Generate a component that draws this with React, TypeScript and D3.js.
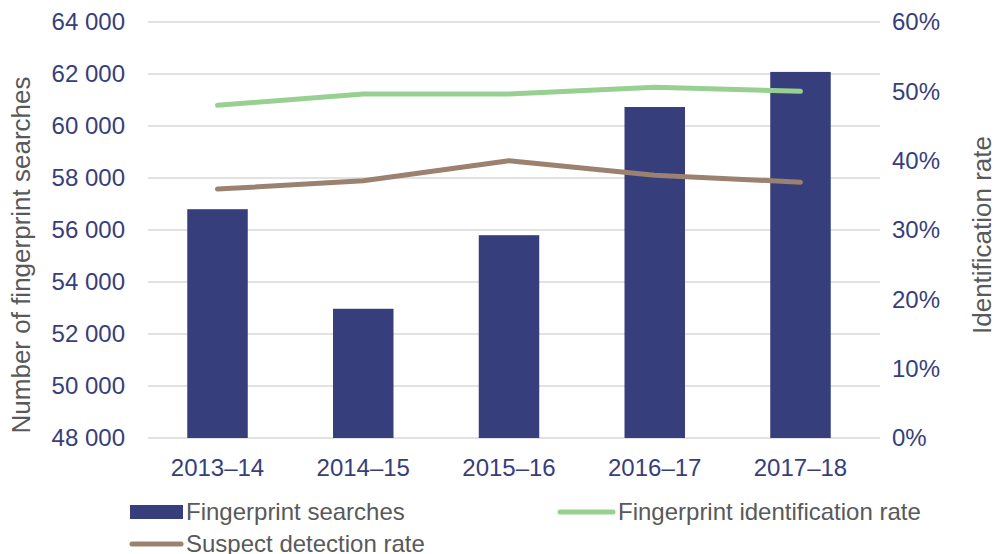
import React from "react";
import * as d3 from "d3";

const categories = ["2013–14", "2014–15", "2015–16", "2016–17", "2017–18"];
const searches = [56800, 52970, 55800, 60730, 62080];
const identificationRate = [48.0, 49.6, 49.6, 50.6, 50.0];
const detectionRate = [35.9, 37.1, 40.0, 37.9, 36.9];
const leftTicks = [48000, 50000, 52000, 54000, 56000, 58000, 60000, 62000, 64000];
const rightTicks = [0, 10, 20, 30, 40, 50, 60];

const W = 997, H = 554;
const plot = { left: 145, right: 873, top: 22, bottom: 438 };
const navy = "#363e7b";
const green = "#98d092";
const brown = "#9b8170";
const grey = "#595959";
const font = "Arial, 'Liberation Sans', sans-serif";

export default function App() {
  const x = d3.scaleBand<string>().domain(categories).range([plot.left, plot.right]).paddingInner(0.585).paddingOuter(0.29);
  const yL = d3.scaleLinear().domain([48000, 64000]).range([plot.bottom, plot.top]);
  const yR = d3.scaleLinear().domain([0, 60]).range([plot.bottom, plot.top]);
  const cx = (c: string) => (x(c) as number) + x.bandwidth() / 2;
  const fmt = (v: number) => d3.format(",")(v).replace(",", " ");
  const lineGen = (vals: number[]) =>
    d3.line<number>().x((_, i) => cx(categories[i])).y((v) => yR(v))(vals) as string;

  return (
    <svg width={W} height={H} style={{ position: "absolute", left: 0, top: 0, fontFamily: font }}>
      <rect width={W} height={H} fill="#fff" />
      {leftTicks.map((t) => (
        <g key={t}>
          {t > 48000 && (
            <line x1={plot.left + 3} x2={plot.right + 7} y1={yL(t)} y2={yL(t)} stroke="#d9d9d9" strokeWidth={1.5} />
          )}
          <text x={125} y={yL(t)} dy="0.35em" textAnchor="end" fontSize={24} fill={navy}>
            {fmt(t)}
          </text>
        </g>
      ))}
      <line x1={plot.left + 3} x2={plot.right + 7} y1={plot.bottom} y2={plot.bottom} stroke="#d9d9d9" strokeWidth={1.5} />
      {rightTicks.map((t) => (
        <text key={t} x={892} y={yR(t)} dy="0.35em" textAnchor="start" fontSize={24} fill={navy}>
          {t}%
        </text>
      ))}
      {categories.map((c, i) => (
        <rect key={c} x={x(c)} y={yL(searches[i])} width={x.bandwidth()} height={plot.bottom - yL(searches[i])} fill={navy} />
      ))}
      <path d={lineGen(identificationRate)} fill="none" stroke={green} strokeWidth={5} strokeLinecap="round" strokeLinejoin="round" />
      <path d={lineGen(detectionRate)} fill="none" stroke={brown} strokeWidth={5} strokeLinecap="round" strokeLinejoin="round" />
      {categories.map((c) => (
        <text key={c} x={cx(c)} y={476} textAnchor="middle" fontSize={24} fill={navy}>
          {c}
        </text>
      ))}
      <text transform="translate(30,255) rotate(-90)" textAnchor="middle" fontSize={26} fill={grey}>
        Number of fingerprint searches
      </text>
      <text transform="translate(991,235) rotate(-90)" textAnchor="middle" fontSize={26} fill={grey}>
        Identification rate
      </text>
      <rect x={130} y={505} width={53} height={14} fill={navy} />
      <text x={186} y={520} fontSize={24} fill={grey}>Fingerprint searches</text>
      <line x1={560} x2={613} y1={512} y2={512} stroke={green} strokeWidth={5} strokeLinecap="round" />
      <text x={618} y={520} fontSize={24} fill={grey}>Fingerprint identification rate</text>
      <line x1={132} x2={181} y1={544} y2={544} stroke={brown} strokeWidth={5} strokeLinecap="round" />
      <text x={186} y={552} fontSize={24} fill={grey}>Suspect detection rate</text>
    </svg>
  );
}
